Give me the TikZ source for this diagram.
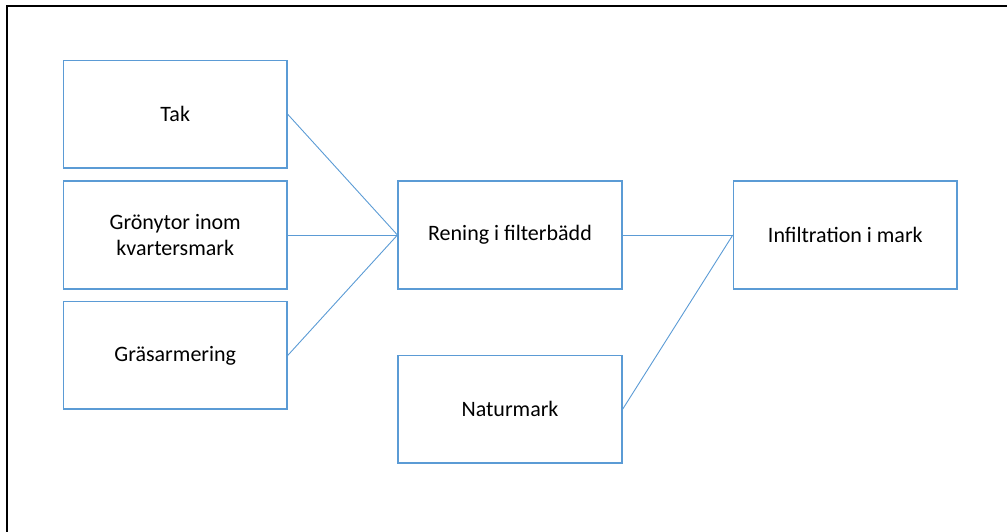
\documentclass[tikz,border=0pt]{standalone}
\usepackage{fontspec}
\setmainfont{Carlito}
\definecolor{boxblue}{RGB}{91,155,213}
\begin{document}
\begin{tikzpicture}[x=1pt,y=-1pt,
  box/.style={draw=boxblue,line width=1.6pt,minimum width=223.5pt,minimum height=107.5pt,inner sep=0pt,align=center,font=\fontsize{22}{26.5}\selectfont},
  link/.style={draw=boxblue,line width=0.9pt}]
\useasboundingbox (0,0) rectangle (1007,531);
\begin{scope}
\clip (0,0) rectangle (1007,531);
\draw[line width=2.2pt] (7,540) -- (7,5.8) -- (1020,5.8);
\end{scope}
\node[box] (tak) at (175.25,114.35) {Tak};
\node[box] (gron) at (175.25,235) {Grönytor inom\\kvartersmark};
\node[box] (gras) at (175.25,355.35) {Gräsarmering};
\node[box] (rening) at (510,235) {Rening i filterbädd};
\node[box] (infil) at (845.35,235) {Infiltration i mark};
\node[box] (natur) at (510,409.35) {Naturmark};
\draw[link] (tak.east) -- (rening.west);
\draw[link] (gron.east) -- (rening.west);
\draw[link] (gras.east) -- (rening.west);
\draw[link] (rening.east) -- (infil.west);
\draw[link] (natur.east) -- (infil.west);
\end{tikzpicture}
\end{document}
